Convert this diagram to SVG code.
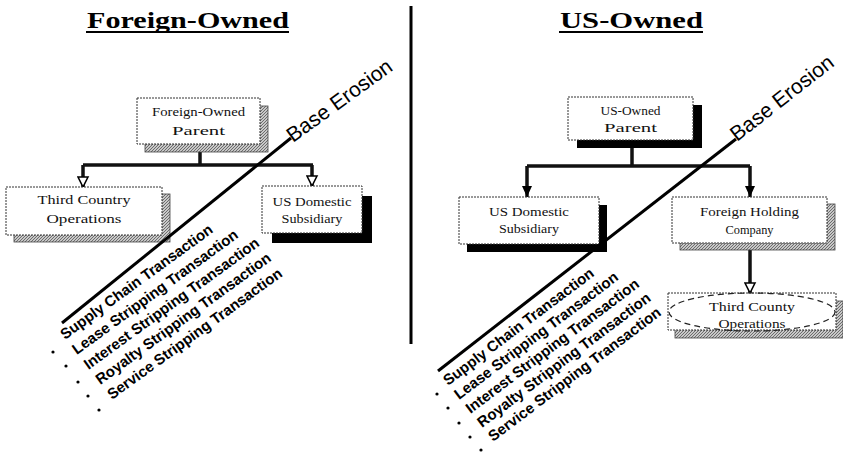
<svg xmlns="http://www.w3.org/2000/svg" width="843" height="453" viewBox="0 0 843 453">
<style>
.title{font-family:"Liberation Serif","Times New Roman",serif;font-weight:bold;font-size:23px;fill:#000}
.lbl{font-family:"Liberation Serif","Times New Roman",serif;font-size:13.5px;fill:#111;text-anchor:middle}
.box{fill:#fff;stroke:#333;stroke-width:1;stroke-dasharray:2 1}
.sh-h{fill:url(#hatch);stroke:#444;stroke-width:0.8}
.sh-b{fill:#000}
.conn{fill:none;stroke:#111;stroke-width:3.5}
.be{font-family:"Liberation Sans",Arial,sans-serif;font-size:21px;fill:#000}
.tx{font-family:"Liberation Sans",Arial,sans-serif;font-weight:bold;font-size:15px;fill:#000}
.eline{stroke:#000;stroke-width:3;fill:none}
</style>
<defs>
<pattern id="hatch" width="3" height="3" patternUnits="userSpaceOnUse">
<rect width="3" height="3" fill="#c8c8c8"/>
<path d="M0,3 L3,0" stroke="#555" stroke-width="0.8"/>
</pattern>
<marker id="arrFill" markerUnits="userSpaceOnUse" markerWidth="12" markerHeight="12" viewBox="0 0 12 12" refX="11" refY="6" orient="auto">
<path d="M0,1 L11,6 L0,11 z" fill="#000"/>
</marker>
<marker id="arrOpen" markerUnits="userSpaceOnUse" markerWidth="13" markerHeight="13" viewBox="0 0 13 13" refX="11" refY="6.5" orient="auto">
<path d="M1,1.5 L11,6.5 L1,11.5 z" fill="#fff" stroke="#000" stroke-width="1.6"/>
</marker>
</defs>
<rect width="843" height="453" fill="#fff"/>

<g id="titles">
<text class="title" x="87" y="28" textLength="202" lengthAdjust="spacingAndGlyphs">Foreign-Owned</text>
<line x1="86" y1="32" x2="289" y2="32" stroke="#000" stroke-width="2"/>
<text class="title" x="560" y="28" textLength="143" lengthAdjust="spacingAndGlyphs">US-Owned</text>
<line x1="559" y1="32" x2="703" y2="32" stroke="#000" stroke-width="2"/>
</g>

<g id="divider">
<line x1="411" y1="6" x2="411" y2="344" stroke="#000" stroke-width="3"/>
</g>

<g id="connectors">
<path class="conn" d="M200,144 V165"/>
<path class="conn" d="M83,165 H313"/>
<path class="conn" d="M83,165 V187" marker-end="url(#arrOpen)"/>
<path class="conn" d="M312,165 V186" marker-end="url(#arrOpen)"/>
<path class="conn" d="M632,140 V166"/>
<path class="conn" d="M527,166 H750"/>
<path class="conn" d="M527,166 V197" marker-end="url(#arrFill)"/>
<path class="conn" d="M750,166 V197" marker-end="url(#arrFill)"/>
<path class="conn" d="M750,243 V293" marker-end="url(#arrOpen)"/>
</g>

<g id="fo-parent">
<rect class="sh-h" x="145" y="106" width="123" height="46"/>
<rect class="box" x="137" y="98" width="123" height="46"/>
<text class="lbl" x="198.5" y="116" textLength="93" lengthAdjust="spacingAndGlyphs">Foreign-Owned</text>
<text class="lbl" x="198.5" y="135" textLength="53" lengthAdjust="spacingAndGlyphs">Parent</text>
</g>

<g id="fo-third-country">
<rect class="sh-h" x="14" y="194" width="156" height="48"/>
<rect class="box" x="6" y="187" width="156" height="48"/>
<text class="lbl" x="84" y="204" textLength="93" lengthAdjust="spacingAndGlyphs">Third Country</text>
<text class="lbl" x="84" y="223" textLength="75" lengthAdjust="spacingAndGlyphs">Operations</text>
</g>

<g id="fo-us-domestic">
<rect class="sh-b" x="272" y="196" width="100" height="47"/>
<rect class="box" x="262" y="186" width="100" height="47"/>
<text class="lbl" x="312" y="206" textLength="79" lengthAdjust="spacingAndGlyphs">US Domestic</text>
<text class="lbl" x="312" y="223" textLength="61" lengthAdjust="spacingAndGlyphs">Subsidiary</text>
</g>

<g id="us-parent">
<rect class="sh-b" x="577" y="105" width="125" height="43"/>
<rect class="box" x="568" y="97" width="125" height="43"/>
<text class="lbl" x="630.5" y="115" textLength="60" lengthAdjust="spacingAndGlyphs">US-Owned</text>
<text class="lbl" x="630.5" y="132" textLength="53" lengthAdjust="spacingAndGlyphs">Parent</text>
</g>

<g id="us-us-domestic">
<rect class="sh-b" x="467" y="205" width="140" height="47"/>
<rect class="box" x="459" y="197" width="140" height="47"/>
<text class="lbl" x="529" y="216" textLength="80" lengthAdjust="spacingAndGlyphs">US Domestic</text>
<text class="lbl" x="529" y="233" textLength="60" lengthAdjust="spacingAndGlyphs">Subsidiary</text>
</g>

<g id="us-foreign-holding">
<rect class="sh-h" x="680" y="204" width="155" height="46"/>
<rect class="box" x="672" y="197" width="155" height="46"/>
<text class="lbl" x="749.5" y="216" textLength="99" lengthAdjust="spacingAndGlyphs">Foreign Holding</text>
<text class="lbl" x="749.5" y="234" textLength="48" lengthAdjust="spacingAndGlyphs">Company</text>
</g>

<g id="us-third-county">
<rect class="sh-h" x="675" y="301" width="168" height="37"/>
<rect class="box" x="668" y="293" width="168" height="37"/>
<ellipse cx="752" cy="312" rx="83" ry="19" fill="none" stroke="#222" stroke-width="1.2" stroke-dasharray="6 4"/>
<text class="lbl" x="752" y="311" textLength="86" lengthAdjust="spacingAndGlyphs">Third County</text>
<text class="lbl" x="752" y="328" textLength="67" lengthAdjust="spacingAndGlyphs">Operations</text>
</g>

<g id="erosion-left">
<line class="eline" x1="62" y1="323" x2="291" y2="138"/>
<text class="be" transform="translate(293,143) rotate(-36)">Base Erosion</text>
<g fill="#000">
<circle cx="53" cy="352" r="1.6"/><circle cx="66" cy="366" r="1.6"/><circle cx="78" cy="382" r="1.6"/><circle cx="88" cy="396" r="1.6"/><circle cx="99" cy="410" r="1.6"/>
</g>
<text class="tx" transform="translate(65,340) rotate(-36)">Supply Chain Transaction</text>
<text class="tx" transform="translate(76.75,355) rotate(-36)">Lease Stripping Transaction</text>
<text class="tx" transform="translate(88.5,370) rotate(-36)">Interest Stripping Transaction</text>
<text class="tx" transform="translate(100.25,385) rotate(-36)">Royalty Stripping Transaction</text>
<text class="tx" transform="translate(112,400) rotate(-36)">Service Stripping Transaction</text>
</g>

<g id="erosion-right">
<line class="eline" x1="438" y1="371" x2="736" y2="139"/>
<text class="be" transform="translate(737,142) rotate(-38)" font-size="20">Base Erosion</text>
<g fill="#000">
<circle cx="437" cy="394" r="1.6"/><circle cx="448" cy="408" r="1.6"/><circle cx="459" cy="423" r="1.6"/><circle cx="470" cy="437" r="1.6"/><circle cx="481" cy="450" r="1.6"/>
</g>
<text class="tx" transform="translate(448,386) rotate(-37)">Supply Chain Transaction</text>
<text class="tx" transform="translate(459,400) rotate(-37)">Lease Stripping Transaction</text>
<text class="tx" transform="translate(470.5,414) rotate(-37)">Interest Stripping Transaction</text>
<text class="tx" transform="translate(482,428) rotate(-37)">Royalty Stripping Transaction</text>
<text class="tx" transform="translate(493,442) rotate(-37)">Service Stripping Transaction</text>
</g>
</svg>
